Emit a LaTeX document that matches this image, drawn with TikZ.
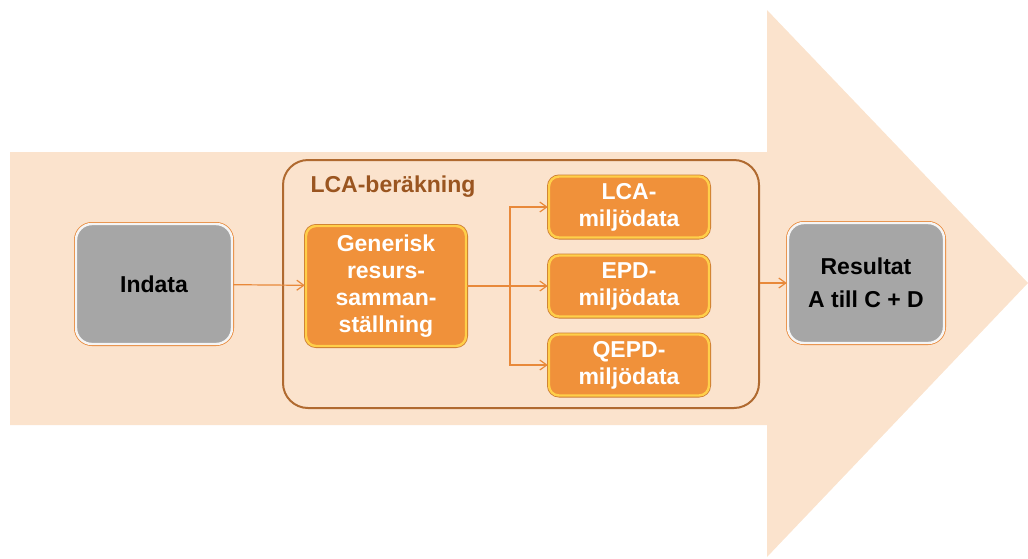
\documentclass[tikz,border=0pt]{standalone}
\usepackage{fontspec}
\setmainfont{Liberation Sans}
\usepackage{xcolor}
\usetikzlibrary{arrows.meta}

\definecolor{peach}{HTML}{FBE3CD}
\definecolor{flowline}{HTML}{E8893A}
\definecolor{frameline}{HTML}{B06A30}
\definecolor{labeltext}{HTML}{9A5520}
\definecolor{orangefill}{HTML}{F0913A}
\definecolor{orangerim}{HTML}{FFCF4A}
\definecolor{greyfill}{HTML}{A6A6A6}

\begin{document}
\begin{tikzpicture}[
  x=1pt, y=-1pt,
  greybox/.style={rounded corners=16pt, fill=greyfill, draw=white!92!gray,
                  line width=2.4pt, preaction={draw=flowline, line width=4pt},
                  minimum width=156pt, minimum height=120pt,
                  font=\bfseries\fontsize{23}{33}\selectfont, align=center},
  orangebox/.style={rounded corners=10pt, fill=orangefill, draw=orangerim,
                    line width=2.4pt, preaction={draw=orangefill!85!black, line width=4pt},
                    minimum width=160pt, text=white,
                    font=\bfseries\fontsize{23}{27}\selectfont, align=center},
  calcframe/.style={rounded corners=25pt, draw=frameline, line width=2pt,
                    minimum width=476pt, minimum height=248pt},
  arr/.style={-{Straight Barb[length=7pt, width=10pt]}, draw=flowline, line width=1.2pt}
]
  \useasboundingbox (0,0) rectangle (1028,558);

  % big background arrow
  \fill[peach] (10,152) -- (767,152) -- (767,10) -- (1028,283)
    -- (767,557) -- (767,425) -- (10,425) -- cycle;

  % LCA calculation frame
  \node[calcframe] (calc) at (521,284) {};
  \node[font=\bfseries\fontsize{23}{27}\selectfont, text=labeltext, anchor=west]
    (calctitle) at (307,187) {LCA-beräkning};

  % boxes
  \node[greybox] (indata) at (154,284) {Indata};
  \node[orangebox, minimum height=120pt] (generic) at (386,286)
    {Generisk\\resurs-\\samman-\\ställning};
  \node[orangebox, minimum height=61pt] (lca) at (629,207) {LCA-\\miljödata};
  \node[orangebox, minimum height=61pt] (epd) at (629,286) {EPD-\\miljödata};
  \node[orangebox, minimum height=61pt] (qepd) at (629,365) {QEPD-\\miljödata};
  \node[greybox] (result) at (866,283) {Resultat\\A till C + D};

  % Arrows
  \coordinate (split) at (510,286);
  \draw[arr] (indata) -- (generic);
  \draw[arr] (generic) -- (epd);
  \draw[arr] (split) |- (lca);
  \draw[arr] (split) |- (qepd);
  \draw[arr] (calc.east |- result.west) -- (result);
\end{tikzpicture}
\end{document}
